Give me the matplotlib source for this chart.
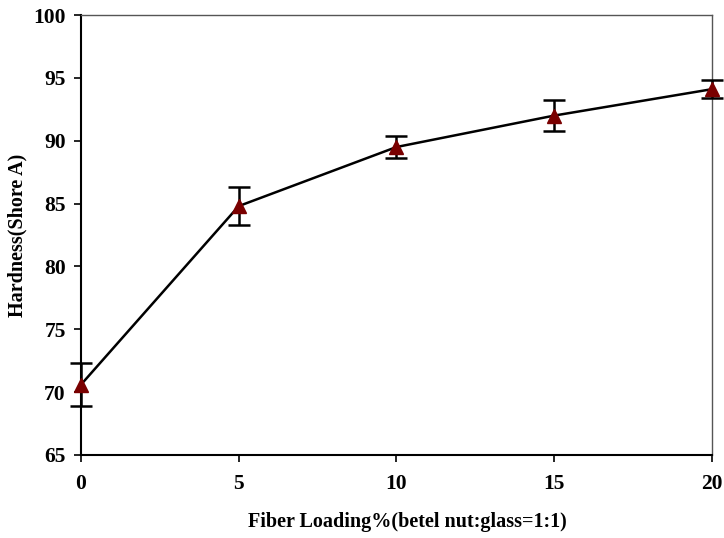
import matplotlib
matplotlib.use("Agg")
import matplotlib.pyplot as plt

# fiber loading vs hardness
loading = [0, 5, 10, 15, 20]
hardness = [70.6, 84.8, 89.5, 92.0, 94.1]
err = [1.7, 1.5, 0.9, 1.25, 0.7]

plt.rcParams['font.family'] = ['Liberation Serif', 'DejaVu Serif']
plt.rcParams['font.weight'] = 'bold'

fig = plt.figure(figsize=(7.24, 5.38), dpi=100)
ax = fig.add_axes([0.1119, 0.1543, 0.8715, 0.8178])

ax.errorbar(loading, hardness, yerr=err, color='black', lw=1.8,
            ecolor='black', elinewidth=1.8, capsize=8, capthick=1.8,
            marker='^', markersize=10, markerfacecolor='#7a0000',
            markeredgecolor='#7a0000', zorder=3, clip_on=False)

ax.set_xlim(0, 20)
ax.set_ylim(65, 100)
ax.set_xticks([0, 5, 10, 15, 20])
ax.set_yticks([65, 70, 75, 80, 85, 90, 95, 100])

for s in ['left', 'bottom']:
    ax.spines[s].set_color('black')
    ax.spines[s].set_linewidth(1.5)
for s in ['top', 'right']:
    ax.spines[s].set_color('#555555')
    ax.spines[s].set_linewidth(1.0)

ax.tick_params(direction='out', length=5, width=1.2, labelsize=15.5, pad=6)
ax.tick_params(axis='x', pad=9)

ax.set_xlabel('Fiber Loading%(betel nut:glass=1:1)', fontsize=14.5,
              fontweight='bold', va='center')
ax.set_ylabel('Hardness(Shore A)', fontsize=14.5, fontweight='bold',
              va='center')
ax.xaxis.set_label_coords(0.518, -0.152)
ax.yaxis.set_label_coords(-0.1, 0.5)

fig.savefig('out.png', dpi=100)
